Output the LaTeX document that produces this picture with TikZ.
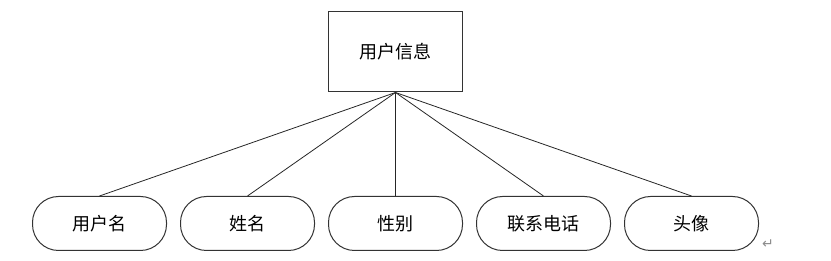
\documentclass[tikz,border=0pt]{standalone}
\usepackage{fontspec}
\newfontfamily\cjk{Noto Sans CJK SC}
\newfontfamily\symfont{DejaVu Sans}
\usepackage{tikz}
\usetikzlibrary{positioning}

\begin{document}
\begin{tikzpicture}[x=1pt, y=-1pt, font=\cjk\fontsize{18}{21}\selectfont]
\tikzset{
  entity/.style={draw=black!80, line width=1pt, minimum width=134pt, minimum height=80pt, inner sep=0pt},
  attr/.style={draw=black!80, line width=1pt, rounded corners=26pt, minimum width=134pt, minimum height=54pt, inner sep=0pt},
  link/.style={draw=black!85, line width=0.8pt},
}
\useasboundingbox (0,0) rectangle (831,261);

% Entity
\node (user) [entity] at (395.5,52) {用户信息};

% Attributes
\node (uname) [attr] at (99.5,223.5) {用户名};
\node (name) [attr, right=13pt of uname] {姓名};
\node (sex) [attr, right=13pt of name] {性别};
\node (phone) [attr, right=13pt of sex] {联系电话};
\node (avatar) [attr, right=13pt of phone] {头像};

% Links
\foreach \a in {uname,name,sex,phone,avatar}
  \draw[link] (user.south) -- (\a.north);

% Paragraph mark
\node (mark) [text=black!45, font=\symfont\fontsize{14}{14}\selectfont, inner sep=0pt] at (768,244) {↵};

\end{tikzpicture}
\end{document}
